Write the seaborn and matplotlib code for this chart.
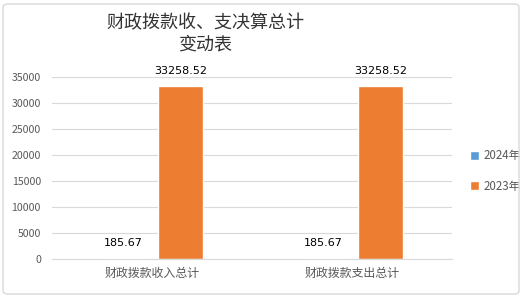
import matplotlib
matplotlib.use("Agg")
import matplotlib.pyplot as plt
import seaborn as sns
import pandas as pd
from matplotlib.patches import FancyBboxPatch

categories = ["财政拨款收入总计", "财政拨款支出总计"]
years = ["2024年", "2023年"]
values_2024 = [185.67, 185.67]
values_2023 = [33258.52, 33258.52]
yticks = [0, 5000, 10000, 15000, 20000, 25000, 30000, 35000]
title = "财政拨款收、支决算总计\n变动表"
colors = ["#5B9BD5", "#ED7D31"]

df = pd.DataFrame({
    "类别": categories * 2,
    "年份": [years[0]] * 2 + [years[1]] * 2,
    "值": values_2024 + values_2023,
})

sns.set_theme(style="white")
plt.rcParams['font.family'] = ['Noto Sans CJK SC', 'DejaVu Sans']

fig = plt.figure(figsize=(5.26, 2.97), dpi=100)
ax = fig.add_axes([52/526, 1-259/297, 400/526, 182/297])

sns.barplot(data=df, x="类别", y="值", hue="年份", hue_order=years,
            palette=colors, width=0.575, gap=0.217, ax=ax, legend=True,
            saturation=1)

ax.set_ylim(0, 35000)
ax.set_xlim(-0.5, 1.5)
ax.set_yticks(yticks)
ax.set_yticklabels([str(t) for t in yticks], fontsize=7.6, color="#595959")
ax.tick_params(axis='x', labelsize=8.6, colors="#595959", length=0, pad=6)
ax.tick_params(axis='y', length=0, pad=8)
ax.yaxis.grid(True, color="#D9D9D9", linewidth=0.8)
ax.set_axisbelow(True)
for s in ["top", "right", "left"]:
    ax.spines[s].set_visible(False)
ax.spines["bottom"].set_color("#D9D9D9")
ax.spines["bottom"].set_linewidth(0.8)
ax.set_xlabel("")
ax.set_ylabel("")

for cont in ax.containers:
    labels = [f"{v:.2f}" for v in cont.datavalues]
    ax.bar_label(cont, labels=labels, padding=7, fontsize=8, color="black",
                 family=['DejaVu Sans'])

handles, labs = ax.get_legend_handles_labels()
ax.legend(handles, labs, loc="center left", bbox_to_anchor=(460/526, 1-171/297),
          bbox_transform=fig.transFigure, frameon=False, fontsize=8.3,
          handlelength=0.75, handleheight=0.75, handletextpad=0.35,
          labelspacing=1.5, labelcolor="#595959")

fig.text(205/526, 1-34/297, title, ha="center", va="center", fontsize=13,
         color="#333333", linespacing=1.25)

border = FancyBboxPatch((3/526, 3/297), 516/526, 290/297,
                        boxstyle="round,pad=0,rounding_size=0.01",
                        transform=fig.transFigure, fill=False,
                        edgecolor="#D9D9D9", linewidth=1)
fig.patches.append(border)

fig.savefig("out.png", dpi=100)
